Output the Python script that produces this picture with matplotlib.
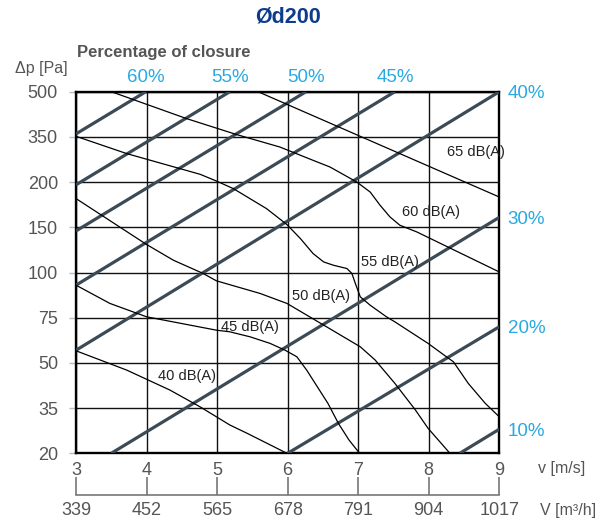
import matplotlib.pyplot as plt
import numpy as np
from matplotlib.ticker import NullLocator

plt.rcParams['font.family'] = ['Liberation Sans', 'DejaVu Sans']

gray = '#555555'
cyan = '#29a9e1'
slate = '#3b4a55'
navy = '#0d3c8c'

# axes
dp_ticks = [20, 35, 50, 75, 100, 150, 200, 350, 500]
v_ticks = [3, 4, 5, 6, 7, 8, 9]
flow_ticks = [339, 452, 565, 678, 791, 904, 1017]

# closure lines, end points (v [m/s], dp [Pa])
closure_labels = ['60%', '55%', '50%', '45%', '40%', '30%', '20%', '10%']
closure_v = [(3, 3.99), (3, 5.18), (3, 6.26), (3, 7.52), (3, 9), (3.5, 9), (6.0, 9), (8.44, 9)]
closure_dp = [(360, 500), (197, 500), (146, 500), (93, 500), (57, 500), (20, 161), (20, 70), (20, 28)]

# sound level curves
v_40 = [3.0, 3.72, 4.33, 4.76, 5.18, 5.42, 5.99]
dp_40 = [56.7, 47.6, 41.0, 35.4, 29.4, 26.7, 20]
v_45 = [3.0, 3.48, 4.0, 4.99, 5.18, 5.47, 5.75, 5.96, 6.13, 6.27, 6.42, 6.57, 6.72, 6.87, 7.02]
dp_45 = [93, 82.9, 75.5, 68.1, 67.2, 64.4, 60.8, 57.1, 53.4, 47.6, 42.1, 36.6, 29.9, 24.4, 20]
v_50 = [3.0, 4.0, 4.38, 4.80, 4.99, 5.61, 5.99, 6.55, 7.03, 7.24, 7.52, 7.81, 7.99, 8.30]
dp_50 = [181.8, 131, 113.6, 99.5, 95.4, 88.4, 82.9, 70, 58.9, 51.6, 43.2, 34.4, 28.3, 20]
v_55 = [3.0, 3.72, 4.76, 4.99, 5.23, 5.70, 5.99, 6.18, 6.36, 6.51, 6.65, 6.84, 6.91, 6.96,
        7.03, 7.17, 7.40, 7.52, 7.99, 8.25, 8.35, 8.56, 8.80, 9.0]
dp_55 = [352, 294.5, 225.8, 203.6, 192.8, 170.7, 153, 137.6, 121, 111.7, 108, 104.4, 99.5, 93.9,
         86.5, 81.9, 75.5, 72.7, 60.8, 53.4, 50.6, 43.2, 36.6, 32.1]
v_60 = [3.5, 4.57, 5.28, 5.89, 6.36, 6.60, 6.98, 7.17, 7.31, 7.45, 7.59, 7.83, 9.0]
dp_60 = [500, 410.5, 357.5, 316.4, 272.3, 250.1, 200.3, 189, 174.4, 161.5, 152.3, 144.9, 100.6]
v_65 = [5.58, 9.0]
dp_65 = [500, 183.5]

db_labels = ['40 dB(A)', '45 dB(A)', '50 dB(A)', '55 dB(A)', '60 dB(A)', '65 dB(A)']
db_curves = [(v_40, dp_40), (v_45, dp_45), (v_50, dp_50), (v_55, dp_55), (v_60, dp_60), (v_65, dp_65)]
label_v = [4.57, 5.47, 6.47, 7.45, 8.03, 8.67]
label_dp = [45.6, 69.8, 86.9, 111.4, 166.7, 298.7]

# the printed pressure ticks are equally spaced
pos = np.arange(len(dp_ticks))
def fwd(p):
    return np.interp(p, dp_ticks, pos)
def inv(i):
    return np.interp(i, pos, dp_ticks)

fig = plt.figure(figsize=(6.03, 5.21), dpi=100)
ax = fig.add_axes([76/603, 1-453.3/521, (499.3-76)/603, (453.3-91.7)/521])
ax.set_yscale('function', functions=(fwd, inv))
ax.set_xlim(3, 9)
ax.set_ylim(20, 500)
ax.set_yticks(dp_ticks, [str(t) for t in dp_ticks])
ax.yaxis.set_minor_locator(NullLocator())
ax.set_xticks(v_ticks, [str(t) for t in v_ticks])
ax.grid(True, color='#111111', lw=1.0)
for s in ax.spines.values():
    s.set_linewidth(1.7)
ax.tick_params(axis='y', length=5, width=1, color='#bbbbbb', labelcolor=gray, labelsize=13, pad=8)
ax.tick_params(axis='x', length=0, labelcolor=gray, labelsize=13, pad=6)

for vv, pp in zip(closure_v, closure_dp):
    ax.plot(vv, pp, color=slate, lw=2.3, solid_capstyle='butt', zorder=3)
for (vv, pp) in db_curves:
    ax.plot(vv, pp, color='black', lw=0.9, zorder=4)
for lab, x, y in zip(db_labels, label_v, label_dp):
    ax.text(x, y, lab, fontsize=10.5, color='#222222', ha='center', va='center', zorder=5)

# closure percentages on top and right
top_v = [v[1] for v, lab in zip(closure_v, closure_labels) if v[1] < 9]
top_lab = [lab for v, lab in zip(closure_v, closure_labels) if v[1] < 9]
right_dp = [p[1] for v, p in zip(closure_v, closure_dp) if v[1] == 9]
right_lab = [lab for v, lab in zip(closure_v, closure_labels) if v[1] == 9]

top = ax.secondary_xaxis('top')
top.set_xticks(top_v, top_lab)
top.tick_params(length=0, labelcolor=cyan, labelsize=13.5, pad=4)
top.spines['top'].set_visible(False)

right = ax.twinx()
right.set_yscale('function', functions=(fwd, inv))
right.set_ylim(20, 500)
right.set_yticks(right_dp, right_lab)
right.yaxis.set_minor_locator(NullLocator())
right.tick_params(length=0, labelcolor=cyan, labelsize=13.5, pad=6)
for s in right.spines.values():
    s.set_visible(False)

# flow rate scale under the velocity axis
flow = ax.secondary_xaxis(-0.115)
flow.set_xticks(v_ticks, [str(t) for t in flow_ticks])
flow.tick_params(direction='in', length=13, width=1.2, color='#777777', labelcolor=gray, labelsize=13, pad=5)
flow.spines['bottom'].set_color('#777777')
flow.spines['bottom'].set_linewidth(1.2)

fig.text(538/603, 1-468/521, 'v [m/s]', fontsize=11.5, color=gray, va='center')
fig.text(540/603, 1-511/521, 'V [m³/h]', fontsize=11.5, color=gray, va='center')
fig.text(41.5/603, 1-69/521, 'Δp [Pa]', fontsize=11.5, color=gray, va='center', ha='center')
fig.text(77/603, 1-52/521, 'Percentage of closure', fontsize=12, fontweight='bold', color=gray, va='center')
fig.text(287.6/603, 1-17/521, 'Ød200', fontsize=15.5, fontweight='bold', color=navy, va='center', ha='center')

fig.savefig('out.png', dpi=100)
